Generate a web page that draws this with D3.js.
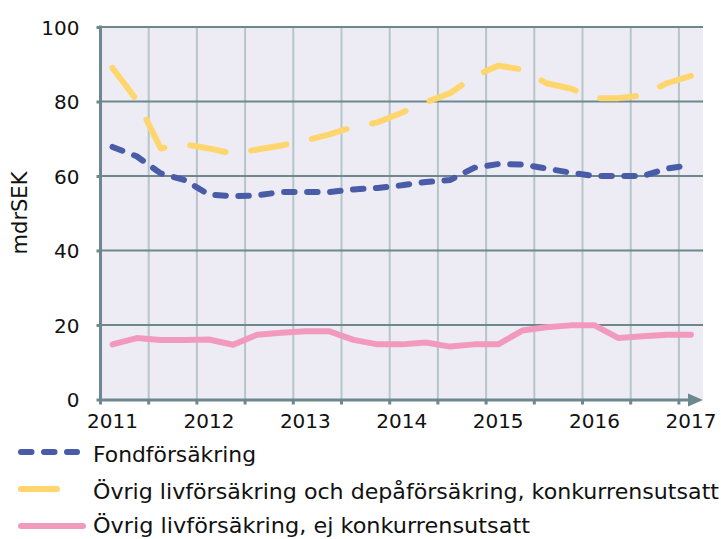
<!DOCTYPE html>
<html><head><meta charset="utf-8">
<script src="https://cdn.jsdelivr.net/npm/d3@7"></script>
<style>html,body{margin:0;padding:0;background:#fff}svg{display:block}</style>
</head><body>
<svg id="c" width="721" height="539"></svg>
<script>
const quarters = ["2011K1","2011K2","2011K3","2011K4","2012K1","2012K2","2012K3","2012K4",
  "2013K1","2013K2","2013K3","2013K4","2014K1","2014K2","2014K3","2014K4",
  "2015K1","2015K2","2015K3","2015K4","2016K1","2016K2","2016K3","2016K4","2017K1"];
const yearLabels = ["2011","2012","2013","2014","2015","2016","2017"];
const yTicks = [0,20,40,60,80,100];
const fond = [67.8,65.3,60.7,58.9,55.0,54.6,54.8,55.7,55.7,55.7,56.4,56.8,57.5,58.4,58.9,62.2,63.2,63.1,62.0,60.9,60.0,60.0,60.0,62.0,62.9];
const ovrigKonk = [89.0,80.4,67.4,68.5,67.4,66.0,67.1,68.2,69.5,71.2,73.2,74.4,77.0,79.8,82.2,86.7,89.6,88.6,84.9,83.5,80.9,80.9,81.7,84.9,86.9];
const ovrigEj = [14.8,16.5,16.0,16.0,16.1,14.7,17.4,17.9,18.3,18.3,16.0,14.8,14.8,15.3,14.2,14.8,14.8,18.5,19.4,19.9,19.9,16.5,17.0,17.4,17.4];
const seriesNames = ["Fondförsäkring","Övrig livförsäkring och depåförsäkring, konkurrensutsatt","Övrig livförsäkring, ej konkurrensutsatt"];
const yTitle = "mdrSEK";

const series = [
  {name: seriesNames[0], values: fond, color: "#4a5ca8", dash: "10.5,12.5", legendEnd: 77, textLen: 163},
  {name: seriesNames[1], values: ovrigKonk, color: "#ffd66e", dash: "36,26", legendEnd: 60, textLen: 626},
  {name: seriesNames[2], values: ovrigEj, color: "#f29abd", dash: null, legendEnd: 83, textLen: 437}
];

const svg = d3.select("#c");
const font = "'DejaVu Sans', Verdana, sans-serif";
const axisColor = "#6c888e";
const L = 100.5, R = 703, T = 27, B = 399.5;

const x = d3.scaleBand().domain(quarters).range([L, R]).padding(0);
const y = d3.scaleLinear().domain([0, 100]).range([B, T]);
const bw = x.bandwidth();

svg.append("rect").attr("x", L).attr("y", T).attr("width", R - L).attr("height", B - T).attr("fill", "#edecf5");

const gridQ = quarters.filter((q, i) => i % 2 === 0);
svg.append("g").selectAll("line").data(gridQ.slice(1)).join("line")
  .attr("x1", d => x(d)).attr("x2", d => x(d)).attr("y1", T).attr("y2", B)
  .attr("stroke", "#b7c5c9").attr("stroke-width", 2);

svg.append("g").selectAll("line").data(yTicks.slice(1)).join("line")
  .attr("x1", L).attr("x2", R).attr("y1", d => y(d)).attr("y2", d => y(d))
  .attr("stroke", axisColor).attr("stroke-width", 2);

const line = d3.line().x((d, i) => x(quarters[i]) + bw / 2).y(d => y(d));

series.forEach(s => {
  const p = svg.append("path").datum(s.values).attr("d", line)
    .attr("fill", "none").attr("stroke", s.color).attr("stroke-width", 6)
    .attr("stroke-linecap", "round").attr("stroke-linejoin", "round");
  if (s.dash) p.attr("stroke-dasharray", s.dash);
});

// y axis
const yAxis = d3.axisLeft(y).tickValues(yTicks).tickSize(4).tickPadding(17);
const gy = svg.append("g").attr("transform", `translate(${L},0)`).call(yAxis);
gy.select(".domain").remove();
gy.selectAll(".tick line").attr("stroke", axisColor).attr("stroke-width", 3);
gy.selectAll(".tick text").attr("font-family", font).attr("font-size", 20).attr("fill", "#111").attr("dy", "0.36em");
svg.append("line").attr("x1", L).attr("x2", L).attr("y1", T - 1.5).attr("y2", B + 1.5)
  .attr("stroke", axisColor).attr("stroke-width", 3);

// x axis
svg.append("line").attr("x1", L - 1.5).attr("x2", 690).attr("y1", B + 0.5).attr("y2", B + 0.5)
  .attr("stroke", axisColor).attr("stroke-width", 3);
svg.append("path").attr("d", `M688,${B - 6}L703,${B + 0.5}L688,${B + 7}Z`).attr("fill", axisColor);
svg.append("g").selectAll("line").data(gridQ).join("line")
  .attr("x1", d => x(d)).attr("x2", d => x(d)).attr("y1", B).attr("y2", B + 5)
  .attr("stroke", axisColor).attr("stroke-width", 3);
svg.append("g").selectAll("text").data(yearLabels).join("text")
  .attr("x", d => x(d + "K1") + bw / 2).attr("y", 428)
  .attr("text-anchor", "middle").attr("font-family", font).attr("font-size", 20).attr("fill", "#111")
  .text(d => d);

// y title
svg.append("text").attr("transform", "translate(27,213) rotate(-90)")
  .attr("text-anchor", "middle").attr("font-family", font).attr("font-size", 21).attr("fill", "#111")
  .text(yTitle);

// legend
const legY = [452, 489, 526];
const legTextY = [462, 499, 533];
series.forEach((s, i) => {
  const l = svg.append("line").attr("x1", 21).attr("x2", s.legendEnd).attr("y1", legY[i]).attr("y2", legY[i])
    .attr("stroke", s.color).attr("stroke-width", 6).attr("stroke-linecap", "round");
  if (s.dash) l.attr("stroke-dasharray", s.dash);
  svg.append("text").attr("x", 93).attr("y", legTextY[i])
    .attr("font-family", font).attr("font-size", 21).attr("fill", "#111")
    .attr("textLength", s.textLen).attr("lengthAdjust", "spacingAndGlyphs")
    .text(s.name);
});
</script>
</body></html>
